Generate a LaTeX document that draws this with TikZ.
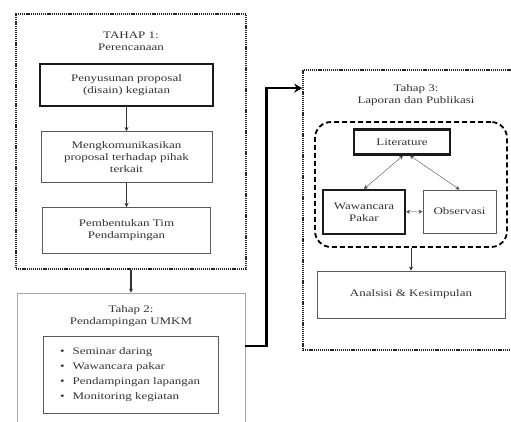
\documentclass[tikz,border=0pt]{standalone}
\usepackage{fontspec}
\setmainfont{Liberation Serif}[FakeStretch=1.3]
\usetikzlibrary{arrows.meta, positioning, calc}

\begin{document}
\begin{tikzpicture}
	[
	x = 1pt, y = -1pt,
	font = \fontsize{10}{12}\selectfont,
	stage/.style = {draw = black!85, dash pattern = on 1.2pt off 0.9pt, line width = 1.7pt, inner sep = 0pt},
	stagetwo/.style = {draw = black!35, line width = 0.8pt, inner sep = 0pt},
	box/.style = {draw = black!65, line width = 0.9pt, fill = white, align = center, inner sep = 2pt, text = black!80},
	thickbox/.style = {box, draw = black!90, line width = 2.2pt},
	title/.style = {align = center, text = black!80},
	tip/.style = {
		->, draw = black!80,
		>={Stealth[width=4pt,length=4pt]}
	},
	biarrow/.style = {
		<->, draw = black!70,
		>={Stealth[width=4pt,length=4pt]}
	},
	bigtip/.style = {
		->, line width = 2.6pt,
		>={Stealth[width=9pt,length=8pt]}
	}
	]
	\useasboundingbox (0,0) rectangle (511,421);
	\clip (0,0) rectangle (511,421);
	
	% tahap 1
	\node[stage, minimum width = 230pt, minimum height = 255pt] (stage1) at (131,141.5) {};
	\node[title] (t1) at (131,41.5) {TAHAP 1:\\Perencanaan};
	\node[thickbox, minimum width = 173pt, minimum height = 42pt] (p1) at (126.5,85) {Penyusunan proposal\\(disain) kegiatan};
	\node[box, minimum width = 171pt, minimum height = 51pt, below = 24pt of p1] (p2) {Mengkomunikasikan\\proposal terhadap pihak\\terkait};
	\node[box, minimum width = 168pt, minimum height = 46pt, below = 24pt of p2] (p3) {Pembentukan Tim\\Pendampingan};
	\draw[tip] (p1) -- (p2);
	\draw[tip] (p2) -- (p3);
	
	% tahap 2
	\node[stagetwo, minimum width = 228pt, minimum height = 140pt] (stage2) at (131,363) {};
	\node[title] (t2) at (131,316.5) {Tahap 2:\\Pendampingan UMKM};
	\node[box, align = left, text width = 141pt, inner xsep = 17pt, minimum height = 77pt, font = \fontsize{10}{15}\selectfont] (kegiatan) at (130.5,374.5) {\textbullet\hspace{8pt}Seminar daring\\ \textbullet\hspace{8pt}Wawancara pakar\\ \textbullet\hspace{8pt}Pendampingan lapangan\\ \textbullet\hspace{8pt}Monitoring kegiatan};
	\draw[tip, line width = 1.2pt] (stage1) -- (stage2);
	
	% tahap 3
	\node[stage, minimum width = 220pt, minimum height = 280pt] (stage3) at (413,210) {};
	\node[title] (t3) at (416,95.5) {Tahap 3:\\Laporan dan Publikasi};
	\node[draw, dash pattern = on 5pt off 3pt, line width = 1.8pt, rounded corners = 16pt, minimum width = 192pt, minimum height = 125pt] (kajian) at (411,184.5) {};
	\node[thickbox, minimum width = 96pt, minimum height = 25pt] (lit) at (402,142) {Literature};
	\node[thickbox, minimum width = 82pt, minimum height = 44pt] (waw) at (364,212) {Wawancara\\Pakar};
	\node[box, minimum width = 73pt, minimum height = 43pt] (obs) at (459.5,211.5) {Observasi};
	\node[box, minimum width = 188pt, minimum height = 47pt] (ana) at (411,294.5) {Analsisi \& Kesimpulan};
	\draw[biarrow] ($(lit.south)+(1,0)$) -- (waw.north);
	\draw[biarrow] ($(lit.south)+(8,0)$) -- (obs.north);
	\draw[biarrow] (waw) -- (obs);
	\draw[tip] (kajian) -- (ana);
	
	% tahap 2 ke tahap 3
	\draw[bigtip] ($(stage2.east)+(0,-17)$) -- ++(21,0) |- ($(stage3.north west)+(0,19)$);
\end{tikzpicture}
\end{document}
